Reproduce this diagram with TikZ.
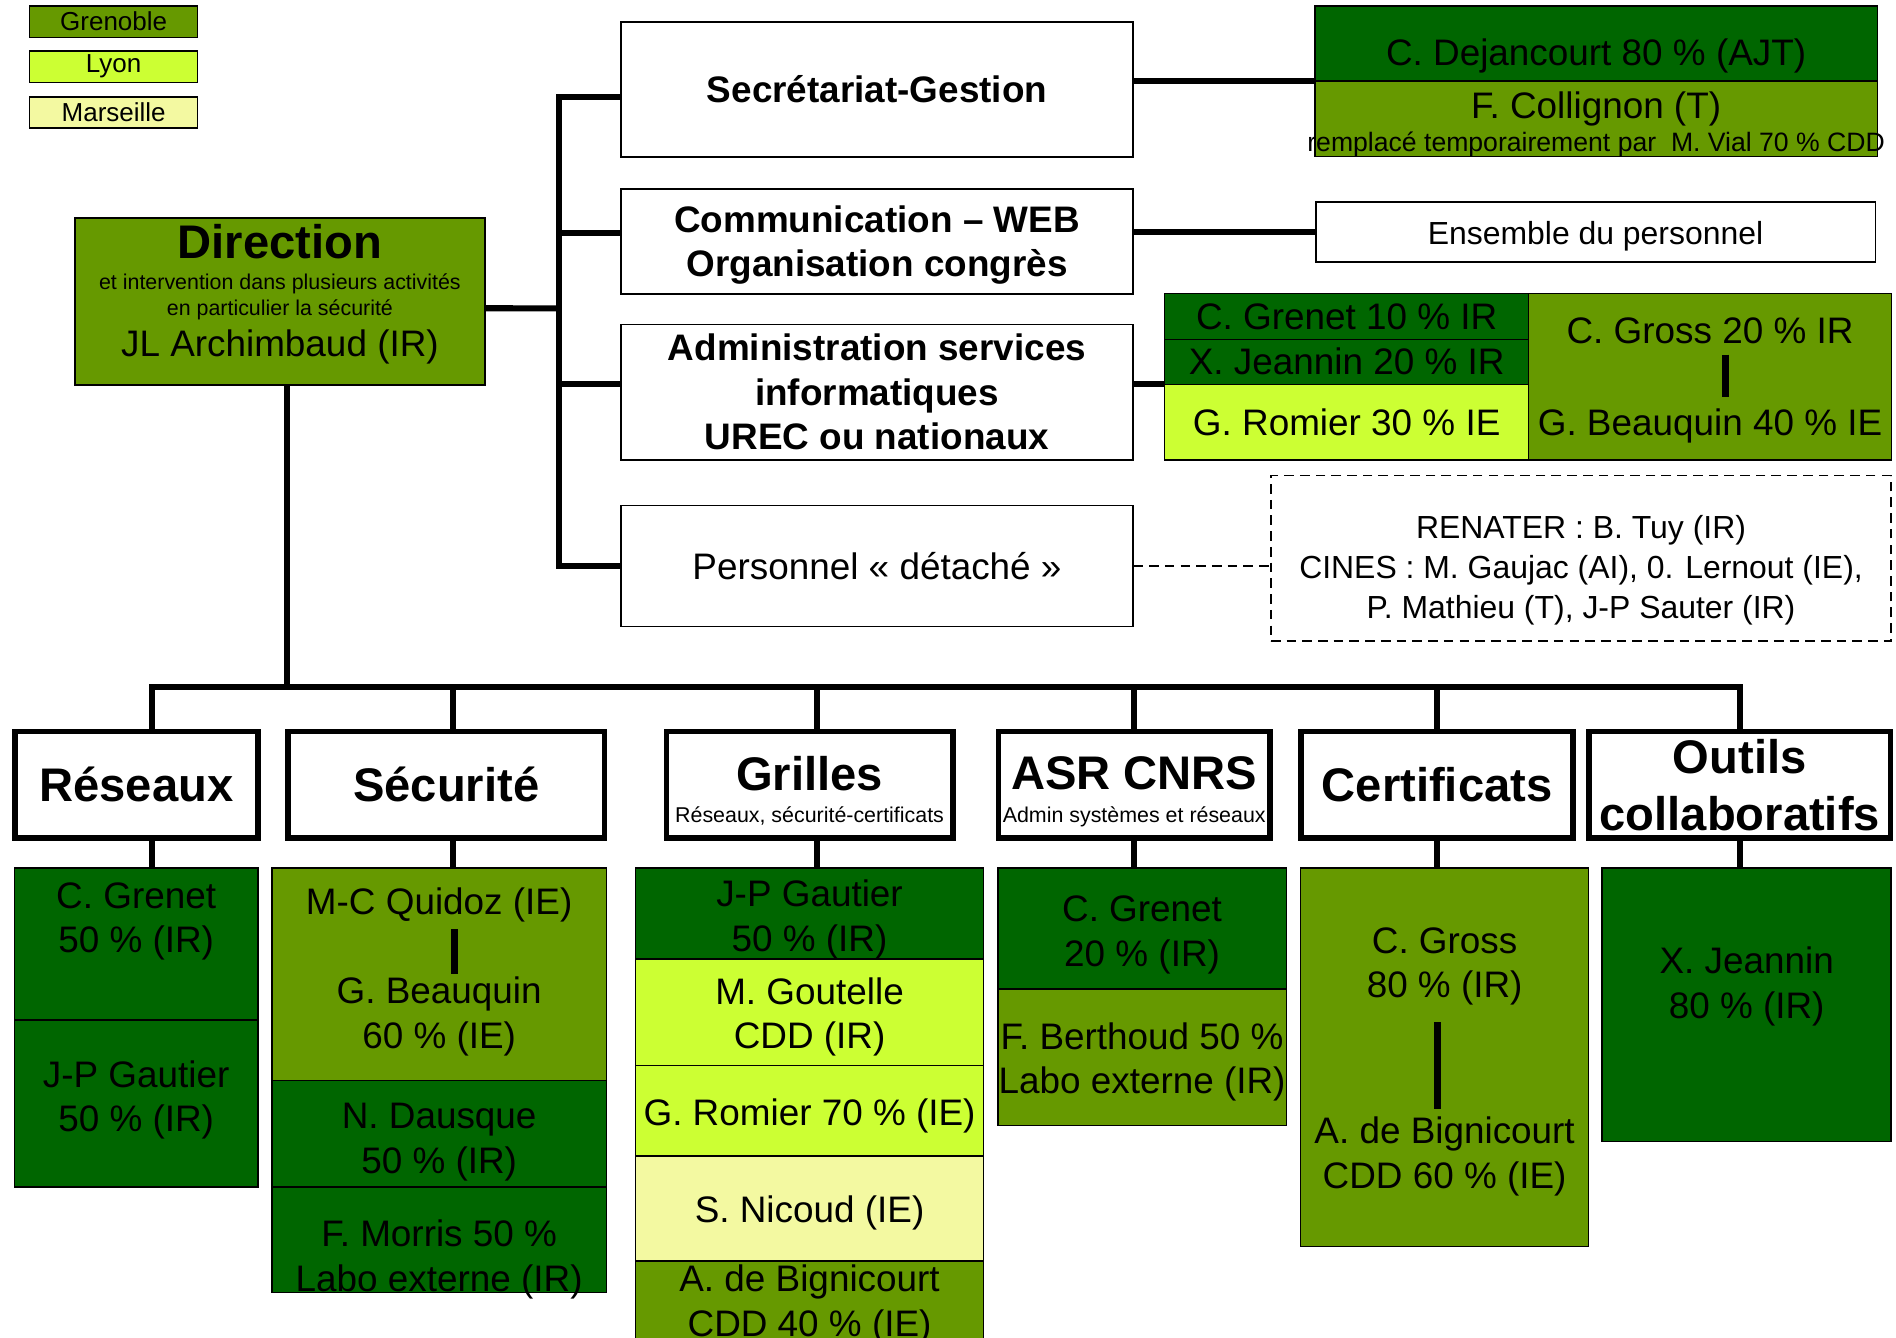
\documentclass[tikz,border=0pt]{standalone}
\usepackage{fontspec}
\setmainfont{Liberation Sans}
\usetikzlibrary{positioning}
\definecolor{grenoble}{RGB}{102,153,0}
\definecolor{lyon}{RGB}{204,255,51}
\definecolor{marseille}{RGB}{243,249,161}
\definecolor{sombre}{RGB}{0,102,0}
\newcommand{\legsize}{\fontsize{21.5}{26}\selectfont}
\newcommand{\namesize}{\fontsize{30.5}{36.8}\selectfont}
\newcommand{\smallsize}{\fontsize{17.7}{21}\mdseries\selectfont}
\newcommand{\notesize}{\fontsize{22}{26}\selectfont}
\newcommand{\extsize}{\fontsize{26.4}{33}\selectfont}
\newcommand{\titlesize}{\fontsize{39}{47}\bfseries\selectfont}
\newcommand{\servsize}{\fontsize{30.5}{36.8}\bfseries\selectfont}
\tikzstyle{trunk}    = [line width=5pt]
\tikzstyle{bar}      = [line width=6pt]
\tikzstyle{dashline} = [line width=1.5pt, dash pattern=on 8pt off 5pt]
\tikzstyle{service}  = [draw, line width=1.5pt, fill=white, inner sep=0pt, outer sep=0pt, align=center]
\tikzstyle{theme}    = [draw, line width=4.5pt, fill=white, inner sep=0pt, outer sep=0pt, align=center, minimum height=88pt, font=\titlesize]
\tikzstyle{person}   = [draw, line width=1.2pt, inner sep=0pt, outer sep=0pt, align=center, font=\namesize]
\tikzstyle{plain}    = [inner sep=0pt, outer sep=0pt, align=center, font=\namesize]
\begin{document}
\begin{tikzpicture}[x=1pt, y=-1pt]
\useasboundingbox (0,0) rectangle (1568,1106);

\node[person, font=\legsize, fill=grenoble, minimum width=139pt, minimum height=26pt] (LG) at (94,17.8) {Grenoble};
\node[person, font=\legsize, fill=lyon, minimum width=139pt, minimum height=26pt, below=11.4pt of LG] (LL) {Lyon};
\node[person, font=\legsize, fill=marseille, minimum width=139pt, minimum height=25.6pt, below=11.9pt of LL] (LM) {Marseille};

\node[person, fill=grenoble, minimum width=339pt, minimum height=138pt] (DIR) at (231.5,249.4) {};
\node[plain, font=\smallsize, below=5pt of DIR.north] (DIRT)
  {{\titlesize Direction}\\[5pt]et intervention dans plusieurs activités\\en particulier la sécurité\\[7pt]{\namesize JL Archimbaud (IR)}};

\node[service, font=\servsize, minimum width=424pt, minimum height=112pt] (SEC) at (725.3,74) {Secrétariat-Gestion};
\node[service, minimum width=424pt, minimum height=87pt, below=26pt of SEC] (COM) {};
\node[plain, font=\servsize, yshift=-3pt] (COMT) at (COM) {Communication – WEB\\Organisation congrès};
\node[service, font=\servsize, minimum width=424pt, minimum height=112pt, below=25.4pt of COM] (ADM) {Administration services\\informatiques\\UREC ou nationaux};
\node[service, font=\namesize, minimum width=424pt, minimum height=100pt, below=37.7pt of ADM] (DET) {Personnel « détaché »};

\node[person, fill=sombre, minimum width=465pt, minimum height=62pt] (DEJ) at (1320,36) {};
\node[plain, yshift=-10pt] (DEJT) at (DEJ) {C. Dejancourt 80 \% (AJT)};
\node[person, fill=grenoble, minimum width=465pt, minimum height=62.6pt, below=0pt of DEJ] (COL) {};
\node[plain, below=9pt of COL.north] (COLT) {F. Collignon (T)\\[-9.3pt]{\notesize remplacé temporairement par~~M. Vial 70 \% CDD}};
\node[service, minimum width=463pt, minimum height=50pt] (ENS) at (1319.5,192) {};
\node[plain, font=\extsize, yshift=-3pt] (ENST) at (ENS) {Ensemble du personnel};

\node[person, fill=sombre, minimum width=301pt, minimum height=38pt] (AG1) at (1113.7,261.6) {C. Grenet 10 \% IR};
\node[person, fill=sombre, minimum width=301pt, minimum height=37.2pt, below=0pt of AG1] (AG2) {X. Jeannin 20 \% IR};
\node[person, fill=lyon, minimum width=301pt, minimum height=62.6pt, below=0pt of AG2] (AG3) {G. Romier 30 \% IE};
\node[person, fill=grenoble, minimum width=300pt, minimum height=137.8pt, anchor=north west] (AG4) at (AG1.north east) {};
\node[plain, below=20pt of AG4.north] (GRO) {C. Gross 20 \% IR};
\node[plain, above=14pt of AG4.south] (BEA) {G. Beauquin 40 \% IE};
\draw[bar, shorten <=9pt, shorten >=10pt] ([xshift=13pt]GRO.south) -- ([xshift=13pt]GRO.south |- BEA.north);

\node[draw, dashline, inner sep=0pt, outer sep=0pt, minimum width=513pt, minimum height=137pt] (EXT) at (1307.5,461.8) {};
\node[plain, font=\extsize, below=33pt of EXT.north] (EXTT) {RENATER : B. Tuy (IR)\\CINES : M. Gaujac (AI), 0. Lernout (IE),\\P. Mathieu (T), J-P Sauter (IR)};

\coordinate (JN) at (462.5,255);
\draw[trunk] ([yshift=-6pt]SEC.west) -| (JN) |- (DET.west);
\draw[trunk] ([yshift=-5.5pt]DIR.east) -- (JN);
\draw[trunk] ([yshift=7pt]COM.west) -- ([yshift=7pt]COM.west -| JN);
\draw[trunk] ([yshift=7pt]ADM.west) -- ([yshift=7pt]ADM.west -| JN);
\draw[trunk] (SEC.east |- DEJ.south) -- (DEJ.south west);
\draw[trunk] (COM.east |- ENS.west) -- (ENS.west);
\draw[trunk] (ADM.east |- AG3.north west) -- (AG3.north west);
\draw[dashline] (DET.east) -- (DET.east -| EXT.west);

\node[theme, minimum width=201pt] (RES) at (112.75,649) {Réseaux};
\node[theme, minimum width=262pt] (SECU) at (369,649) {Sécurité};
\node[theme, minimum width=237pt] (GRI) at (669.5,649) {};
\node[plain, font=\titlesize, yshift=-5pt] (GRIT) at (GRI) {Grilles\\[-20pt]{\smallsize Réseaux, sécurité-certificats}};
\node[theme, minimum width=224.5pt] (ASR) at (938,649) {};
\node[plain, font=\titlesize, yshift=-6pt] (ASRT) at (ASR) {ASR CNRS\\[-20pt]{\smallsize Admin systèmes et réseaux}};
\node[theme, minimum width=225pt] (CER) at (1188.5,649) {Certificats};
\node[theme, minimum width=249.5pt] (OUT) at (1438.8,649) {Outils\\collaboratifs};

\node[person, fill=sombre, minimum width=201.6pt, minimum height=125.6pt, anchor=north] (R1) at (112.6,718) {};
\node[plain, below=12pt of R1.north] (R1T) {C. Grenet\\50 \% (IR)};
\node[person, fill=sombre, minimum width=201.6pt, minimum height=137.9pt, below=0pt of R1] (R2) {};
\node[plain, yshift=3pt] (R2T) at (R2) {J-P Gautier\\50 \% (IR)};

\node[person, fill=grenoble, minimum width=276.5pt, minimum height=175.4pt, anchor=north] (S1) at (363.2,718) {};
\node[plain, below=16pt of S1.north] (QUI) {M-C Quidoz (IE)};
\node[plain, below=45.6pt of QUI] (BQS) {G. Beauquin\\60 \% (IE)};
\draw[bar, shorten <=6pt, shorten >=2.6pt] ([xshift=12.5pt]QUI.south) -- ([xshift=12.5pt]QUI.south |- BQS.north);
\node[person, fill=sombre, minimum width=276.5pt, minimum height=88.1pt, below=0pt of S1] (S2) {};
\node[plain, yshift=-7pt] (S2T) at (S2) {N. Dausque\\50 \% (IR)};
\node[person, fill=sombre, minimum width=276.5pt, minimum height=87.5pt, below=0pt of S2] (S3) {};
\node[plain, above=-5pt of S3.south] (MOR) {F. Morris 50 \%\\Labo externe (IR)};

\node[person, fill=sombre, minimum width=288pt, minimum height=75pt, anchor=north] (G1) at (669.5,718) {};
\node[plain, yshift=-5pt] (G1T) at (G1) {J-P Gautier\\50 \% (IR)};
\node[person, fill=lyon, minimum width=288pt, minimum height=88pt, below=0pt of G1] (G2) {};
\node[plain, yshift=-4pt] (G2T) at (G2) {M. Goutelle\\CDD (IR)};
\node[person, fill=lyon, minimum width=288pt, minimum height=75pt, below=0pt of G2] (G3) {};
\node[plain, yshift=-4pt] (G3T) at (G3) {G. Romier 70 \% (IE)};
\node[person, fill=marseille, minimum width=288pt, minimum height=87pt, below=0pt of G3] (G4) {};
\node[plain, yshift=-4pt] (G4T) at (G4) {S. Nicoud (IE)};
\node[person, fill=grenoble, minimum width=288pt, minimum height=80pt, below=0pt of G4] (G5) {};
\node[plain, below=3pt of G5.north] (BIG) {A. de Bignicourt\\CDD 40 \% (IE)};

\node[person, fill=sombre, minimum width=238.5pt, minimum height=100pt, anchor=north] (A1) at (944.5,718) {};
\node[plain, yshift=-5pt] (A1T) at (A1) {C. Grenet\\20 \% (IR)};
\node[person, fill=grenoble, minimum width=238.5pt, minimum height=112.6pt, below=0pt of A1] (A2) {};
\node[plain, yshift=-4pt] (A2T) at (A2) {F. Berthoud 50 \%\\Labo externe (IR)};

\node[person, fill=grenoble, minimum width=238.2pt, minimum height=313pt, anchor=north] (C1) at (1194.7,718) {};
\node[plain, below=49pt of C1.north] (GRS) {C. Gross\\80 \% (IR)};
\node[plain, above=42pt of C1.south] (BIC) {A. de Bignicourt\\CDD 60 \% (IE)};
\draw[bar, shorten <=14pt, shorten >=7pt] ([xshift=-6pt]GRS.south) -- ([xshift=-6pt]GRS.south |- BIC.north);

\node[person, fill=sombre, minimum width=239pt, minimum height=225.8pt, anchor=north] (O1) at (1444.5,718) {};
\node[plain, below=65pt of O1.north] (JEA) {X. Jeannin\\80 \% (IR)};

\coordinate (BUS) at (0,568);
\draw[trunk] ([xshift=6pt]DIR.south) -- ([xshift=6pt]DIR.south |- BUS);
\draw[trunk, line cap=rect] ([xshift=13pt]RES.north |- BUS) -- (OUT.north |- BUS);
\foreach \t/\p/\d in {RES/R1/13, SECU/S1/6, GRI/G1/6, ASR/A1/0, CER/C1/0, OUT/O1/0}{
  \draw[trunk] ([xshift=\d pt]\t.north |- BUS) -- ([xshift=\d pt]\t.north);
  \draw[trunk] ([xshift=\d pt]\t.south) -- ([xshift=\d pt]\t.south |- \p.north);
}

\end{tikzpicture}
\end{document}
